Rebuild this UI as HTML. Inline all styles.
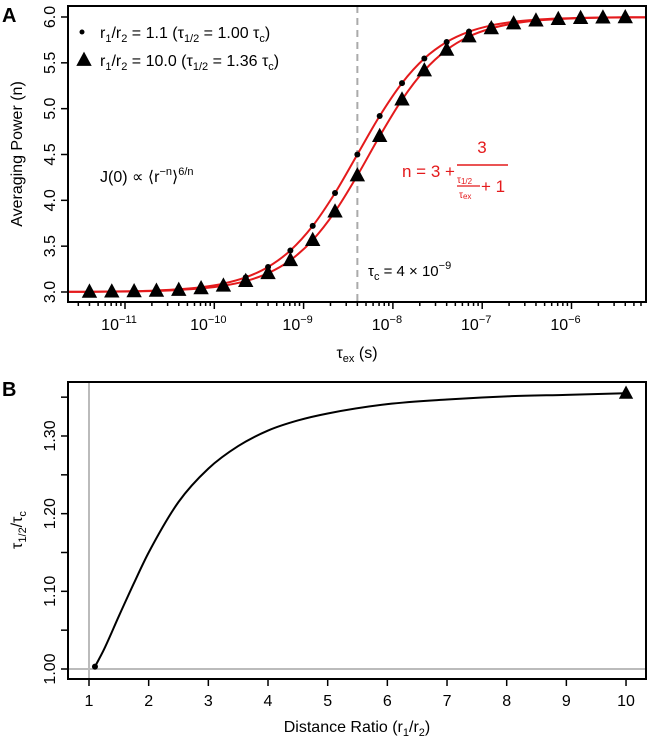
<!DOCTYPE html>
<html><head><meta charset="utf-8"><style>
body{margin:0;background:#fff;}
svg{display:block;font-family:"Liberation Sans",Arial,sans-serif;}
</style></head><body>
<svg id="fig" width="649" height="739" viewBox="0 0 649 739"></svg>
<script>
// ---- Panel A data ----
const logTauEx = [-11.398,-11.148,-10.898,-10.648,-10.398,-10.148,-9.898,-9.648,-9.398,-9.148,-8.898,-8.648,-8.398,-8.148,-7.898,-7.648,-7.398,-7.148,-6.898,-6.648,-6.398,-6.148,-5.898,-5.648,-5.398];
const nSeries1 = [3.003,3.005,3.009,3.017,3.030,3.052,3.092,3.160,3.273,3.453,3.721,4.080,4.500,4.920,5.279,5.547,5.727,5.840,5.908,5.948,5.970,5.983,5.991,5.995,5.997];
const nSeries2 = [3.002,3.004,3.007,3.012,3.022,3.039,3.068,3.119,3.205,3.347,3.566,3.877,4.271,4.700,5.098,5.416,5.641,5.787,5.876,5.929,5.960,5.977,5.987,5.993,5.996];
const yTicksA = [3.0,3.5,4.0,4.5,5.0,5.5,6.0];
const yTickLabelsA = ["3.0","3.5","4.0","4.5","5.0","5.5","6.0"];
const xDecadesA = [-11,-10,-9,-8,-7,-6];
const tauC = 4e-9;
// ---- Panel B data ----
const ratioX = [1.1,1.25,1.5,1.75,2,2.5,3,3.5,4,4.5,5,6,7,8,9,10];
const tauRatioY = [1.003,1.025,1.068,1.110,1.150,1.215,1.258,1.287,1.307,1.320,1.329,1.341,1.347,1.351,1.353,1.355];
const xTicksB = [1,2,3,4,5,6,7,8,9,10];
const yTicksB = [1.00,1.05,1.10,1.15,1.20,1.25,1.30,1.35];
const yLabelsB = ["1.00","1.10","1.20","1.30"];

const NS="http://www.w3.org/2000/svg";
const svg=document.getElementById('fig');
function mk(tag,attrs,parent,text){const e=document.createElementNS(NS,tag);for(const k in attrs)e.setAttribute(k,attrs[k]);if(text!==undefined)e.textContent=text;(parent||svg).appendChild(e);return e;}

const A={x0:68,x1:646,y0:6,y1:302};
const xA=l=>125+(l+11)*89.3;
const yA=v=>292-(v-3)*91.67;
const B={x0:68,x1:646,y0:382,y1:679};
const xB=v=>89+(v-1)*59.67;
const yB=v=>669-(v-1)*776.7;

// monotone cubic (Fritsch-Carlson) for smooth curves
function smoothPath(pts){
  const n=pts.length, dx=[], m=[], s=[];
  for(let i=0;i<n-1;i++){dx[i]=pts[i+1][0]-pts[i][0];s[i]=(pts[i+1][1]-pts[i][1])/dx[i];}
  m[0]=s[0];m[n-1]=s[n-2];
  for(let i=1;i<n-1;i++){m[i]=(s[i-1]*s[i]<=0)?0:(s[i-1]+s[i])/2;}
  for(let i=0;i<n-1;i++){
    if(s[i]===0){m[i]=0;m[i+1]=0;continue;}
    const a=m[i]/s[i],b=m[i+1]/s[i],h=a*a+b*b;
    if(h>9){const t=3/Math.sqrt(h);m[i]=t*a*s[i];m[i+1]=t*b*s[i];}
  }
  let d=`M${pts[0][0].toFixed(2)},${pts[0][1].toFixed(2)}`;
  for(let i=0;i<n-1;i++){
    const h=dx[i];
    d+=` C${(pts[i][0]+h/3).toFixed(2)},${(pts[i][1]+m[i]*h/3).toFixed(2)} ${(pts[i+1][0]-h/3).toFixed(2)},${(pts[i+1][1]-m[i+1]*h/3).toFixed(2)} ${pts[i+1][0].toFixed(2)},${pts[i+1][1].toFixed(2)}`;
  }
  return d;
}
function tri(cx,cy,s,parent){return mk('polygon',{points:`${cx},${cy-s*0.6} ${cx-s*0.55},${cy+s*0.42} ${cx+s*0.55},${cy+s*0.42}`,fill:'#000'},parent);}

// ===== Panel A =====
const gA=mk('g',{});


const pl=mk('text',{x:2,y:22,'font-size':20,'font-weight':'bold'},gA,'A');


const dl=mk('line',{x1:xA(Math.log10(tauC)),x2:xA(Math.log10(tauC)),y1:A.y0,y2:A.y1,stroke:'#aaa','stroke-width':2,'stroke-dasharray':'7,5'},gA);


[nSeries1,nSeries2].forEach((ser,si)=>{
  const pts=[[A.x0+1,yA(ser[0])]].concat(logTauEx.map((l,i)=>[xA(l),yA(ser[i])])).concat([[A.x1-1,yA(ser[ser.length-1])]]);
  const p=mk('path',{d:smoothPath(pts),fill:'none',stroke:'#e41a1c','stroke-width':2},gA);
  
  
});
logTauEx.forEach((l,i)=>{
  const c=mk('circle',{cx:xA(l),cy:yA(nSeries1[i]),r:3,fill:'#000'},gA);
  
  
});
logTauEx.forEach((l,i)=>{
  const t=tri(xA(l),yA(nSeries2[i]),14,gA);
  
  
});
const bA=mk('rect',{x:A.x0,y:A.y0,width:A.x1-A.x0,height:A.y1-A.y0,fill:'none',stroke:'#000','stroke-width':2},gA);

yTicksA.forEach((v,i)=>{
  mk('line',{x1:A.x0-7,x2:A.x0,y1:yA(v),y2:yA(v),stroke:'#000','stroke-width':1.5},gA);
  const t=mk('text',{x:0,y:0,'font-size':16,'text-anchor':'middle',transform:`translate(${A.x0-13},${yA(v)}) rotate(-90)`},gA,yTickLabelsA[i]);
  
  
});
for(let d=-12;d<=-6;d++){
  for(let m=1;m<=9;m++){
    const l=d+Math.log10(m);const x=xA(l);
    if(x<A.x0+1||x>A.x1-1)continue;
    mk('line',{x1:x,x2:x,y1:A.y1,y2:A.y1+(m===1?7:4),stroke:'#000','stroke-width':1.5},gA);
  }
}
xDecadesA.forEach(d=>{
  const t=mk('text',{x:xA(d)-6,y:330,'font-size':16,'text-anchor':'middle'},gA);
  t.innerHTML=`10<tspan dy="-7" font-size="11">\u2212${-d}</tspan>`;
  
  
});
const xt=mk('text',{x:357,y:358,'font-size':16,'text-anchor':'middle'},gA);
xt.innerHTML='τ<tspan dy="4" font-size="11">ex</tspan><tspan dy="-4"> (s)</tspan>';

const yt=mk('text',{x:0,y:0,'font-size':16,'text-anchor':'middle',transform:'translate(22,154) rotate(-90)'},gA,'Averaging Power (n)');


const lg=mk('g',{},gA);

mk('circle',{cx:82,cy:32,r:2.5,fill:'#000'},lg);
tri(84,60,14,lg);
const l1=mk('text',{x:100,y:38,'font-size':16},lg);
l1.innerHTML='r<tspan dy="4" font-size="11">1</tspan><tspan dy="-4">/r</tspan><tspan dy="4" font-size="11">2</tspan><tspan dy="-4"> = 1.1 (τ</tspan><tspan dy="4" font-size="11">1/2</tspan><tspan dy="-4"> = 1.00 τ</tspan><tspan dy="4" font-size="11">c</tspan><tspan dy="-4">)</tspan>';

const l2=mk('text',{x:100,y:66,'font-size':16},lg);
l2.innerHTML='r<tspan dy="4" font-size="11">1</tspan><tspan dy="-4">/r</tspan><tspan dy="4" font-size="11">2</tspan><tspan dy="-4"> = 10.0 (τ</tspan><tspan dy="4" font-size="11">1/2</tspan><tspan dy="-4"> = 1.36 τ</tspan><tspan dy="4" font-size="11">c</tspan><tspan dy="-4">)</tspan>';


const j=mk('text',{x:100,y:182,'font-size':16},gA);
j.innerHTML='J(0) ∝ ⟨r<tspan dy="-7" font-size="11">−n</tspan><tspan dy="7">⟩</tspan><tspan dy="-7" font-size="11">6/n</tspan>';

const eq=mk('g',{fill:'#e41a1c'},gA);

mk('text',{x:402,y:177,'font-size':17},eq,'n = 3 +');
mk('text',{x:482,y:153,'font-size':17,'text-anchor':'middle'},eq,'3');
mk('line',{x1:457,x2:508,y1:165,y2:165,stroke:'#e41a1c','stroke-width':1.5},eq);
const nu=mk('text',{x:457,y:183,'font-size':10},eq);nu.innerHTML='τ<tspan font-size="8" dy="1">1/2</tspan>';
mk('line',{x1:457,x2:480,y1:186,y2:186,stroke:'#e41a1c','stroke-width':1.2},eq);
const de=mk('text',{x:459,y:198,'font-size':10},eq);de.innerHTML='τ<tspan font-size="8" dy="1">ex</tspan>';
mk('text',{x:481,y:192,'font-size':17},eq,'+ 1');
const tc=mk('text',{x:368,y:276,'font-size':15},gA);
tc.innerHTML='τ<tspan dy="4" font-size="11">c</tspan><tspan dy="-4"> = 4 × 10</tspan><tspan dy="-7" font-size="11">−9</tspan>';


// ===== Panel B =====
const gB=mk('g',{});


const pb=mk('text',{x:2,y:396,'font-size':20,'font-weight':'bold'},gB,'B');

const gv=mk('line',{x1:xB(1),x2:xB(1),y1:B.y0,y2:B.y1,stroke:'#bbb','stroke-width':2},gB);

const gh=mk('line',{x1:B.x0,x2:B.x1,y1:yB(1),y2:yB(1),stroke:'#bbb','stroke-width':2},gB);

const cB=mk('path',{d:smoothPath(ratioX.map((v,i)=>[xB(v),yB(tauRatioY[i])])),fill:'none',stroke:'#000','stroke-width':2},gB);

const d0=mk('circle',{cx:xB(ratioX[0]),cy:yB(tauRatioY[0]),r:3,fill:'#000'},gB);

const tL=tri(xB(ratioX[ratioX.length-1]),yB(tauRatioY[tauRatioY.length-1]),13,gB);

const bB=mk('rect',{x:B.x0,y:B.y0,width:B.x1-B.x0,height:B.y1-B.y0,fill:'none',stroke:'#000','stroke-width':2},gB);

xTicksB.forEach(v=>{
  mk('line',{x1:xB(v),x2:xB(v),y1:B.y1,y2:B.y1+7,stroke:'#000','stroke-width':1.5},gB);
  const t=mk('text',{x:xB(v),y:706,'font-size':16,'text-anchor':'middle'},gB,String(v));
  
  
});
yTicksB.forEach(v=>{
  mk('line',{x1:B.x0-7,x2:B.x0,y1:yB(v),y2:yB(v),stroke:'#000','stroke-width':1.5},gB);
});
yLabelsB.forEach(s=>{
  const v=parseFloat(s);
  const t=mk('text',{x:0,y:0,'font-size':16,'text-anchor':'middle',transform:`translate(${B.x0-13},${yB(v)}) rotate(-90)`},gB,s);
  
  
});
const xtb=mk('text',{x:357,y:732,'font-size':16,'text-anchor':'middle'},gB);
xtb.innerHTML='Distance Ratio (r<tspan dy="4" font-size="11">1</tspan><tspan dy="-4">/r</tspan><tspan dy="4" font-size="11">2</tspan><tspan dy="-4">)</tspan>';

const ytb=mk('text',{x:0,y:0,'font-size':16,'text-anchor':'middle',transform:'translate(22,530) rotate(-90)'},gB);
ytb.innerHTML='τ<tspan dy="4" font-size="11">1/2</tspan><tspan dy="-4">/τ</tspan><tspan dy="4" font-size="11">c</tspan>';

</script>
</body></html>
